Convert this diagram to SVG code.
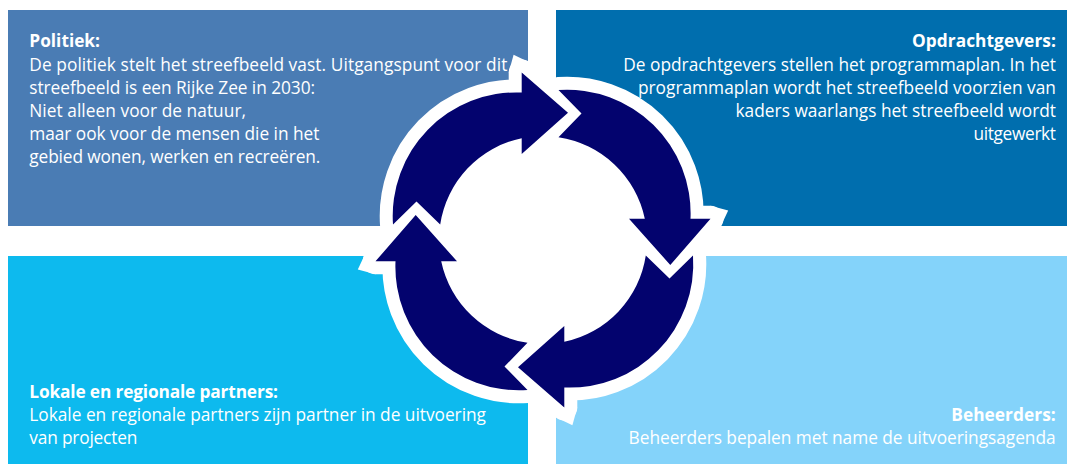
<svg xmlns="http://www.w3.org/2000/svg" xmlns:xlink="http://www.w3.org/1999/xlink" width="1067" height="464" viewBox="0 0 1067 464">
  <style>
    text { font-family: "Open Sans", "Noto Sans", "Liberation Sans", sans-serif; font-size: 17.3px; fill: #ffffff; }
    .b { font-weight: 700; }
    .outline { fill: #ffffff; stroke: #ffffff; stroke-width: 26; stroke-linejoin: round; }
    .spike { fill: #ffffff; stroke: none; }
    .arrow { fill: #03036e; stroke: none; }
  </style>
  <defs>
    <path id="cycleArrow" d="M -150 -15.5 A 123.6 123.6 0 0 1 -21.3 -147.5 L -21.3 -167.5 L 25 -127.3 L -21.3 -86 L -21.3 -101.8 A 104 104 0 0 0 -102.8 -15.5 L -126.5 -38.5 Z"/>
    <polygon id="headSpike" points="-21.3,-167.5 -34.3,-167.5 -29.4,-185.2 -12.8,-177.3"/>
  </defs>
  <rect width="1067" height="464" fill="#ffffff"/>

  <g id="politiek">
    <rect x="8" y="10" width="520" height="216" fill="#4a7cb4"/>
    <text class="b" x="29.3" y="47.3" textLength="70.7">Politiek:</text>
    <text x="29.3" y="70.5" textLength="478">De politiek stelt het streefbeeld vast. Uitgangspunt voor dit</text>
    <text x="29.3" y="93.7" textLength="285.7">streefbeeld is een Rijke Zee in 2030:</text>
    <text x="29.3" y="116.9" textLength="216.7">Niet alleen voor de natuur,</text>
    <text x="29.3" y="140.1" textLength="290">maar ook voor de mensen die in het</text>
    <text x="29.3" y="163.3" textLength="291">gebied wonen, werken en recreëren.</text>
  </g>

  <g id="opdrachtgevers">
    <rect x="556" y="10" width="511" height="216" fill="#006eae"/>
    <text class="b" x="911.9" y="47.3" textLength="144">Opdrachtgevers:</text>
    <text x="623.2" y="70.5" textLength="432.8">De opdrachtgevers stellen het programmaplan. In het</text>
    <text x="637.9" y="93.7" textLength="418">programmaplan wordt het streefbeeld voorzien van</text>
    <text x="735.5" y="116.9" textLength="320.5">kaders waarlangs het streefbeeld wordt</text>
    <text x="973.5" y="140.1" textLength="82.5">uitgewerkt</text>
  </g>

  <g id="partners">
    <rect x="8" y="256" width="520" height="208" fill="#0dbaee"/>
    <text class="b" x="29.3" y="397.5" textLength="248.7">Lokale en regionale partners:</text>
    <text x="29.3" y="421" textLength="456.7">Lokale en regionale partners zijn partner in de uitvoering</text>
    <text x="29.3" y="444.3" textLength="108">van projecten</text>
  </g>

  <g id="beheerders">
    <rect x="556" y="256" width="511" height="208" fill="#84d3fa"/>
    <text class="b" x="951.3" y="421" textLength="104.4">Beheerders:</text>
    <text x="628.6" y="444.3" textLength="427">Beheerders bepalen met name de uitvoeringsagenda</text>
  </g>

  <g id="connectors" transform="translate(543 240)">
    <circle r="112" fill="#ffffff"/>
    <use xlink:href="#cycleArrow" class="outline"/>
    <use xlink:href="#cycleArrow" class="outline" transform="rotate(90)"/>
    <use xlink:href="#cycleArrow" class="outline" transform="rotate(180)"/>
    <use xlink:href="#cycleArrow" class="outline" transform="rotate(270)"/>
    <use xlink:href="#headSpike" class="spike"/>
    <use xlink:href="#headSpike" class="spike" transform="rotate(90)"/>
    <use xlink:href="#headSpike" class="spike" transform="rotate(180)"/>
    <use xlink:href="#headSpike" class="spike" transform="rotate(270)"/>
    <use xlink:href="#cycleArrow" class="arrow"/>
    <use xlink:href="#cycleArrow" class="arrow" transform="rotate(90)"/>
    <use xlink:href="#cycleArrow" class="arrow" transform="rotate(180)"/>
    <use xlink:href="#cycleArrow" class="arrow" transform="rotate(270)"/>
  </g>
</svg>
